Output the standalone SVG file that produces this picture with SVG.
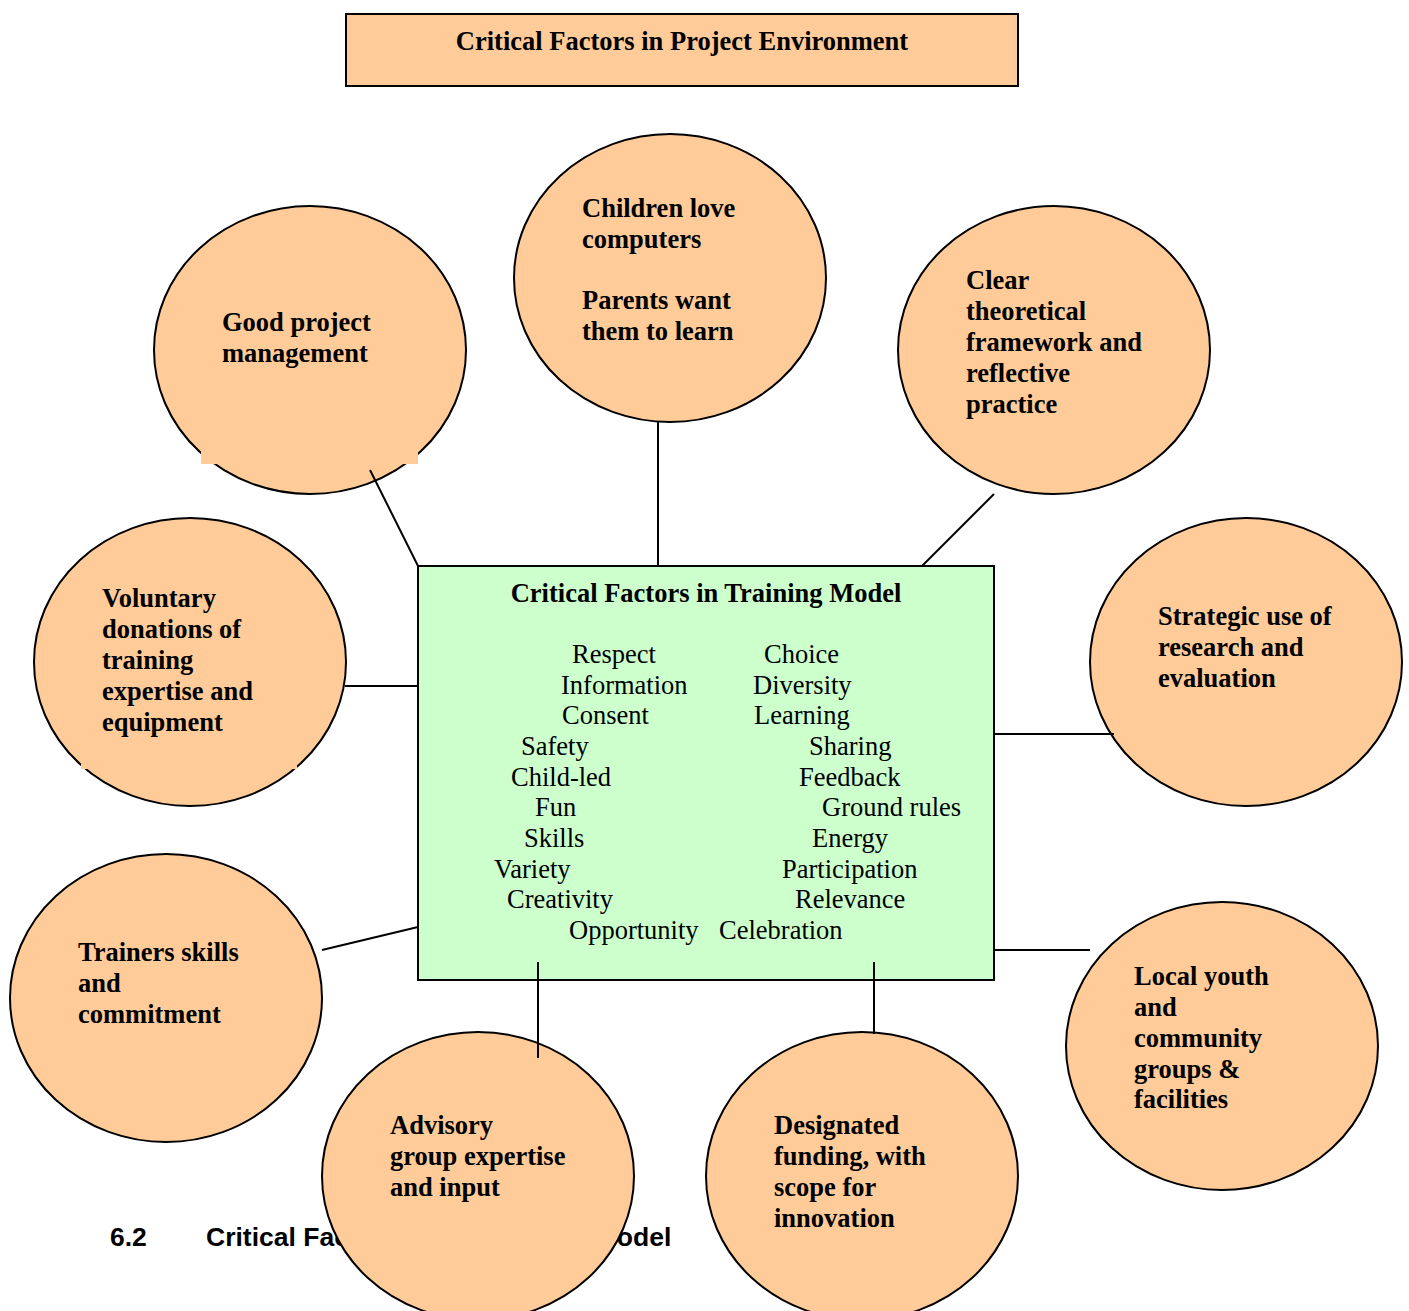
<svg xmlns="http://www.w3.org/2000/svg" width="1409" height="1311" viewBox="0 0 1409 1311">
<style>
.c{fill:#FFCC99;stroke:#000;stroke-width:2}
.b{font-family:"Liberation Serif","Times New Roman",serif;font-weight:bold;font-size:26.5px;fill:#000}
.r{font-family:"Liberation Serif","Times New Roman",serif;font-size:26.5px;fill:#000}
.cap{font-family:"Liberation Sans",Arial,sans-serif;font-weight:bold;font-size:26.5px;fill:#000}
.k{stroke:#000;stroke-width:2;fill:none}
</style>
<rect width="1409" height="1311" fill="#fff"/>
<g id="caption">
<text class="cap" x="110" y="1246">6.2</text>
<text class="cap" x="206" y="1246">Critical Factors in the Training Model</text>
</g>
<g id="title">
<rect x="346" y="14" width="672" height="72" fill="#FFCC99" stroke="#000" stroke-width="2"/>
<text class="b" x="682" y="50" text-anchor="middle">Critical Factors in Project Environment</text>
</g>
<g id="n-management">
<ellipse class="c" cx="310" cy="350" rx="156" ry="144"/>
<rect x="201" y="448" width="217" height="16" fill="#FFCC99"/>
<text class="b" x="222" y="331">Good project</text>
<text class="b" x="222" y="362">management</text>
</g>
<g id="n-children">
<ellipse class="c" cx="670" cy="278" rx="156" ry="144"/>
<text class="b" x="582" y="217">Children love</text>
<text class="b" x="582" y="248">computers</text>
<text class="b" x="582" y="309">Parents want</text>
<text class="b" x="582" y="340">them to learn</text>
</g>
<g id="n-framework">
<ellipse class="c" cx="1054" cy="350" rx="156" ry="144"/>
<text class="b" x="966" y="289">Clear</text>
<text class="b" x="966" y="320">theoretical</text>
<text class="b" x="966" y="351">framework and</text>
<text class="b" x="966" y="382">reflective</text>
<text class="b" x="966" y="413">practice</text>
</g>
<g id="n-voluntary">
<ellipse class="c" cx="190" cy="662" rx="156" ry="144"/>
<rect x="81" y="764" width="216" height="5" fill="#FFCC99"/>
<text class="b" x="102" y="607">Voluntary</text>
<text class="b" x="102" y="638">donations of</text>
<text class="b" x="102" y="669">training</text>
<text class="b" x="102" y="700">expertise and</text>
<text class="b" x="102" y="731">equipment</text>
</g>
<g id="n-strategic">
<ellipse class="c" cx="1246" cy="662" rx="156" ry="144"/>
<text class="b" x="1158" y="625">Strategic use of</text>
<text class="b" x="1158" y="656">research and</text>
<text class="b" x="1158" y="687">evaluation</text>
</g>
<g id="n-trainers">
<ellipse class="c" cx="166" cy="998" rx="156" ry="144"/>
<text class="b" x="78" y="961">Trainers skills</text>
<text class="b" x="78" y="992">and</text>
<text class="b" x="78" y="1023">commitment</text>
</g>
<g id="n-advisory">
<ellipse class="c" cx="478" cy="1176" rx="156" ry="144"/>
<text class="b" x="390" y="1134">Advisory</text>
<text class="b" x="390" y="1165">group expertise</text>
<text class="b" x="390" y="1196">and input</text>
</g>
<g id="n-funding">
<ellipse class="c" cx="862" cy="1176" rx="156" ry="144"/>
<text class="b" x="774" y="1134">Designated</text>
<text class="b" x="774" y="1165">funding, with</text>
<text class="b" x="774" y="1196">scope for</text>
<text class="b" x="774" y="1227">innovation</text>
</g>
<g id="n-local">
<ellipse class="c" cx="1222" cy="1046" rx="156" ry="144"/>
<text class="b" x="1134" y="985">Local youth</text>
<text class="b" x="1134" y="1016">and</text>
<text class="b" x="1134" y="1047">community</text>
<text class="b" x="1134" y="1078">groups &amp;</text>
<text class="b" x="1134" y="1108">facilities</text>
</g>
<g id="n-model">
<rect x="418" y="566" width="576" height="414" fill="#CCFFCC" stroke="#000" stroke-width="2"/>
<text class="b" x="706" y="602" text-anchor="middle">Critical Factors in Training Model</text>
<text class="r" x="572" y="663">Respect</text>
<text class="r" x="561" y="694">Information</text>
<text class="r" x="562" y="724">Consent</text>
<text class="r" x="521" y="755">Safety</text>
<text class="r" x="511" y="786">Child-led</text>
<text class="r" x="535" y="816">Fun</text>
<text class="r" x="524" y="847">Skills</text>
<text class="r" x="494" y="878">Variety</text>
<text class="r" x="507" y="908">Creativity</text>
<text class="r" x="569" y="939">Opportunity</text>
<text class="r" x="764" y="663">Choice</text>
<text class="r" x="753" y="694">Diversity</text>
<text class="r" x="754" y="724">Learning</text>
<text class="r" x="809" y="755">Sharing</text>
<text class="r" x="799" y="786">Feedback</text>
<text class="r" x="822" y="816">Ground rules</text>
<text class="r" x="812" y="847">Energy</text>
<text class="r" x="782" y="878">Participation</text>
<text class="r" x="795" y="908">Relevance</text>
<text class="r" x="719" y="939">Celebration</text>
</g>
<g id="connectors">
<line class="k" x1="370" y1="470" x2="418" y2="566"/>
<line class="k" x1="658" y1="422" x2="658" y2="566"/>
<line class="k" x1="994" y1="494" x2="922" y2="566"/>
<line class="k" x1="345" y1="686" x2="418" y2="686"/>
<line class="k" x1="994" y1="734" x2="1114" y2="734"/>
<line class="k" x1="322" y1="950" x2="418" y2="927"/>
<line class="k" x1="994" y1="950" x2="1090" y2="950"/>
<line class="k" x1="538" y1="962" x2="538" y2="1058"/>
<line class="k" x1="874" y1="962" x2="874" y2="1034"/>
</g>
</svg>
